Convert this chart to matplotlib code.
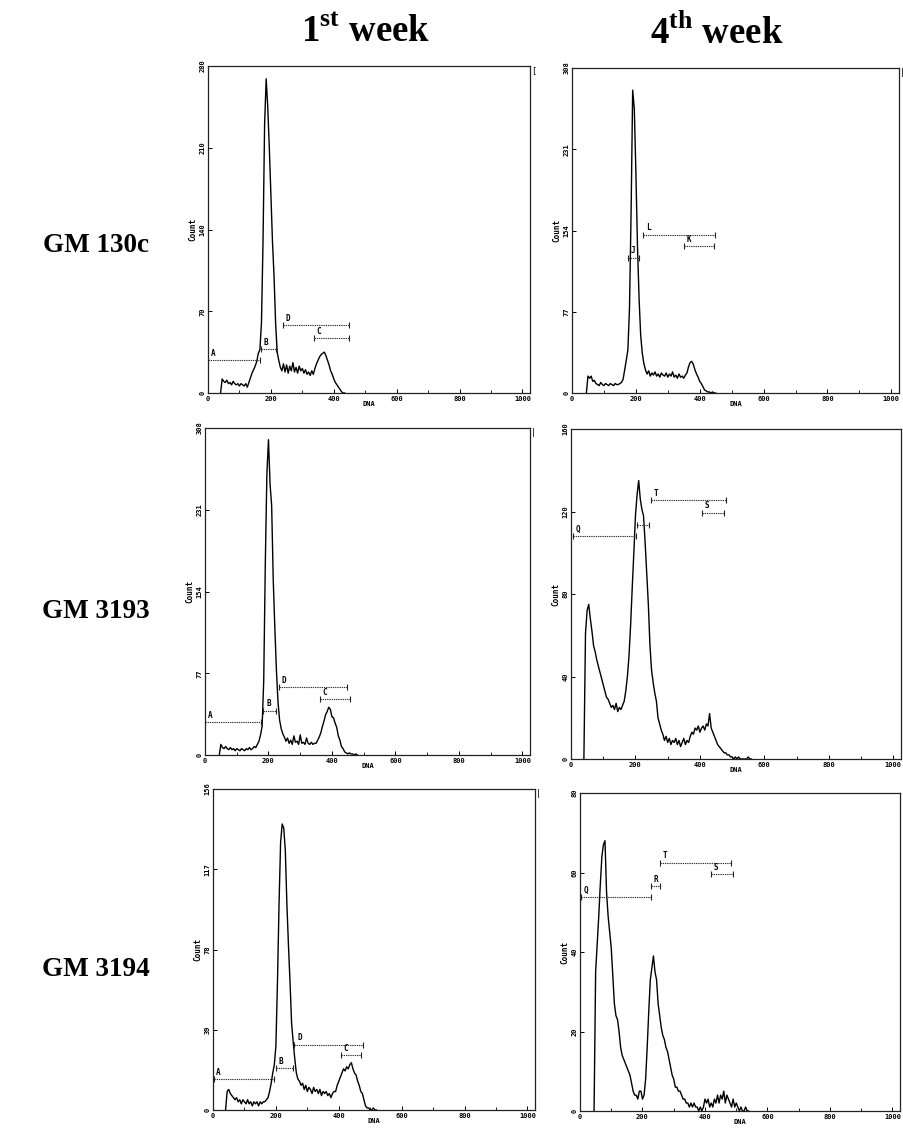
import numpy as np
import matplotlib.pyplot as plt

W, H = 904, 1131
STEP = 5  # DNA channels per bin

plt.rcParams["mathtext.fontset"] = "custom"
plt.rcParams["mathtext.rm"] = "Liberation Serif:bold"

# ---- histogram counts, one value per 5-channel bin ----
gm130c_w1_start = 40
gm130c_w1 = [0, 12, 10, 9, 11, 8, 9, 7, 10, 8, 7, 8, 6, 8, 7, 6, 8, 5,
             9, 13, 17, 20, 23, 27, 34, 37, 60, 130, 230, 269, 245, 210, 170, 130, 100, 60, 35, 28,
             22, 19, 25, 18, 24, 17, 23, 19, 26, 18, 22, 17, 23, 19, 21, 17, 20, 16, 18, 15, 19, 16,
             21, 25, 28, 31, 33, 34, 35, 32, 28, 24, 19, 16, 12, 9, 7, 5, 3, 1, 0, 0]

gm130c_w4_start = 45
gm130c_w4 = [0, 16, 14, 16, 11, 12, 9, 8, 7, 10, 8, 7, 9, 8, 7, 9, 8, 7, 9, 8, 8, 9, 10,
             13, 22, 31, 41, 80, 170, 287, 270, 210, 140, 90, 55, 38, 28, 22,
             18, 21, 16, 19, 17, 20, 16, 18, 15, 19, 17, 16, 19, 15, 18, 16, 20, 15, 17, 14, 18, 15,
             16, 14, 17, 19, 25, 29, 30, 27, 22, 18, 15, 11, 9, 6, 3, 2, 1, 1, 0, 1, 0, 0]

gm3193_w1_start = 45
gm3193_w1 = [0, 10, 7, 6, 8, 6, 5, 7, 5, 6, 4, 6, 5, 4, 6, 5, 4, 6, 5, 7, 5, 6, 8, 7, 10,
             13, 19, 27, 70, 180, 265, 297, 255, 235, 165, 120, 80, 50, 33, 25, 20,
             17, 13, 16, 11, 14, 10, 18, 12, 13, 10, 19, 11, 12, 10, 16, 11, 10, 12, 10, 11, 11,
             14, 17, 21, 27, 32, 38, 41, 45, 43, 36, 35, 30, 26, 18, 14, 8, 6, 3, 2, 1, 2, 1, 1,
             0, 1, 0]

gm3193_w4_start = 40
gm3193_w4 = [0, 61, 72, 75, 68, 62, 55, 52, 48, 45, 42, 39, 36, 33, 30, 29, 27, 25, 26, 24,
             27, 23, 25, 24, 26, 28, 33, 40, 50, 65, 83, 100, 118, 128, 135, 126, 121, 118, 105,
             90, 75, 55, 43, 37, 32, 28, 20, 17, 14, 12,
             9, 11, 8, 10, 7, 9, 8, 10, 7, 9, 6, 8, 10, 7, 9, 8, 11, 13, 12, 15, 14, 16, 13, 15,
             16, 14, 17, 16, 22, 15, 13, 11, 9, 7, 6, 5, 4, 3, 3, 2, 2, 1, 1, 0, 1, 0, 1, 0, 0,
             0, 0, 0, 1, 0, 0]

gm3194_w1_start = 40
gm3194_w1 = [0, 9, 10, 8, 7, 6, 5, 6, 4, 5, 3, 5, 4, 3, 5, 3, 4, 2, 4, 3, 4, 2, 4, 3, 4, 4,
             5, 6, 9, 13, 18, 22, 31, 62, 100, 130, 139, 137, 126, 100, 80, 62, 42, 33, 25, 18, 15,
             14, 12, 13, 10, 12, 9, 11, 10, 8, 11, 9, 10, 8, 10, 7, 9, 8, 9, 7, 8, 6, 8, 9, 9,
             12, 14, 16, 18, 20, 19, 21, 20, 22, 23, 20, 18, 17, 14, 12, 9, 8, 5, 2, 1, 1, 0, 0,
             1, 0, 0]

gm3194_w4_start = 45
gm3194_w4 = [0, 35, 42, 49, 57, 64, 67, 68, 55, 49, 45, 41, 34, 27, 24, 23, 20, 16, 14, 13,
             12, 11, 10, 9, 7, 5, 4, 4, 3, 5, 5, 3, 4, 8, 16, 25, 33, 36, 39, 35, 33, 27, 24, 21,
             19, 18, 16, 15, 13, 11, 9, 8, 6, 6, 5, 5, 4, 3, 3, 2, 2, 1, 2, 1, 2, 1, 1, 0, 1, 0,
             1, 3, 2, 3, 1, 2, 1, 3, 2, 4, 2, 4, 3, 5, 2, 4, 3, 2, 1, 3, 1, 2, 1, 0, 1, 0, 0, 1,
             0, 0]

# ---- gate markers: name, count level, start channel, end channel ----
gates_130c_w1 = [("A", 28, 1, 165), ("B", 37.4, 168, 216), ("D", 58, 238, 449), ("C", 47, 336, 448)]
gates_130c_w4 = [("J", 128, 176, 211), ("L", 150, 223, 448), ("K", 139, 352, 446)]
gates_3193_w1 = [("A", 31, 0, 175), ("B", 41.7, 184, 223), ("D", 63.8, 234, 446), ("C", 52.7, 361, 458)]
gates_3193_w4 = [("Q", 108, 5, 201), ("", 113.6, 205, 241), ("T", 125.4, 247, 481), ("S", 119.3, 406, 474)]
gates_3194_w1 = [("A", 15, 2, 193), ("B", 20.2, 199, 256), ("D", 31.8, 259, 477), ("C", 26.6, 407, 472)]
gates_3194_w4 = [("Q", 53.8, 2, 226), ("R", 56.5, 228, 255), ("T", 62.5, 257, 483), ("S", 59.6, 418, 489)]

yticks_130c_w1 = [0, 70, 140, 210, 280]
yticks_130c_w4 = [0, 77, 154, 231, 308]
yticks_3193_w1 = [0, 77, 154, 231, 308]
yticks_3193_w4 = [0, 40, 80, 120, 160]
yticks_3194_w1 = [0, 39, 78, 117, 156]
yticks_3194_w4 = [0, 20, 40, 60, 80]

xticks = [0, 200, 400, 600, 800, 1000]
row_labels = ["GM 130c", "GM 3193", "GM 3194"]
col_labels = ["1$^{\\mathrm{st}}$ week", "4$^{\\mathrm{th}}$ week"]

# pixel boxes (x0, y0, x1, y1) of each plot frame
panels = [
    ((208, 66, 530, 393), gm130c_w1_start, gm130c_w1, yticks_130c_w1, gates_130c_w1, "["),
    ((572, 68, 899, 393), gm130c_w4_start, gm130c_w4, yticks_130c_w4, gates_130c_w4, "|"),
    ((205, 428, 530, 755), gm3193_w1_start, gm3193_w1, yticks_3193_w1, gates_3193_w1, "|"),
    ((571, 429, 901, 759), gm3193_w4_start, gm3193_w4, yticks_3193_w4, gates_3193_w4, ""),
    ((213, 789, 535, 1110), gm3194_w1_start, gm3194_w1, yticks_3194_w1, gates_3194_w1, "|"),
    ((580, 793, 900, 1111), gm3194_w4_start, gm3194_w4, yticks_3194_w4, gates_3194_w4, ""),
]

mono = "DejaVu Sans Mono"
fig = plt.figure(figsize=(W / 100, H / 100), dpi=100)

for (x0, y0, x1, y1), start, counts, yt, gates, mark in panels:
    ax = fig.add_axes([x0 / W, 1 - y1 / H, (x1 - x0) / W, (y1 - y0) / H])
    ch = start + STEP * np.arange(len(counts))
    ax.plot(ch, counts, color="black", lw=1.0)
    ax.set_xlim(0, 1024)
    ax.set_ylim(0, yt[-1])
    ax.set_xticks(xticks)
    ax.set_xticks([100, 300, 500, 700, 900], minor=True)
    ax.set_yticks(yt)
    ax.set_xticklabels([str(v) for v in xticks], fontfamily=mono, fontweight="bold", fontsize=5)
    ax.set_yticklabels([str(v) for v in yt], fontfamily=mono, fontweight="bold", fontsize=5,
                       rotation=90, va="center")
    ax.tick_params(direction="in", length=3, width=0.7, pad=2)
    ax.tick_params(which="minor", direction="in", length=2, width=0.6)
    ax.set_xlabel("DNA", fontfamily=mono, fontweight="bold", fontsize=5, labelpad=-0.5)
    ax.set_ylabel("Count", fontfamily=mono, fontweight="bold", fontsize=5.5, labelpad=1)
    for s in ax.spines.values():
        s.set_linewidth(0.9)
        s.set_color("#222222")

    for name, level, g0, g1 in gates:
        ax.hlines(level, g0, g1, colors="#333333", lw=0.8, linestyles=(0, (1.2, 0.8)))
        ax.plot([g0, g1], [level, level], ls="none", marker="|", ms=4.5, mew=0.8, color="#222222")
        if name:
            ax.annotate(name, (g0, level), xytext=(3.6, 5), textcoords="offset points",
                        ha="center", va="center", fontfamily=mono, fontweight="bold", fontsize=5.5)
    if mark:
        ax.text(1.004, 0.985, mark, transform=ax.transAxes, ha="left", va="center",
                fontfamily=mono, fontsize=6)

for lab, yc in zip(row_labels, [246, 611, 970]):
    fig.text(96 / W, 1 - yc / H, lab, ha="center", va="center",
             fontfamily="Liberation Serif", fontweight="bold", fontsize=19.5)

for lab, xc in zip(col_labels, [366, 717]):
    fig.text(xc / W, 1 - 33 / H, lab, ha="center", va="center",
             fontfamily="Liberation Serif", fontweight="bold", fontsize=26.5)

fig.savefig("out.png", dpi=100)
